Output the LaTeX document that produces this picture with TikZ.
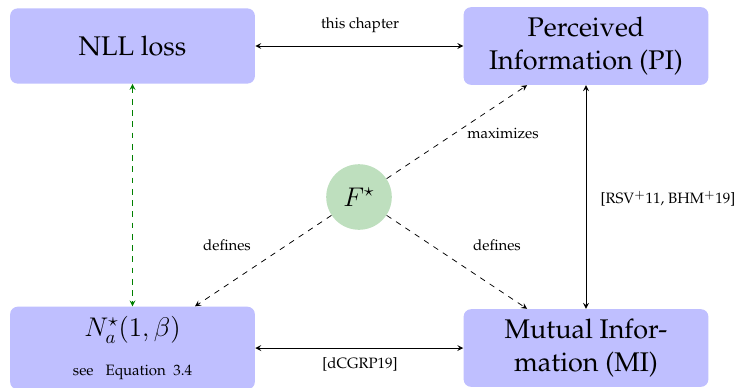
\documentclass[tikz,border=0pt]{standalone}
\usepackage[T1]{fontenc}
\usepackage{palatino}
\usetikzlibrary{arrows, arrows.meta}
\usepackage{amsfonts}
\usepackage{amsmath}

\definecolor{boxblue}{RGB}{191,191,255}
\definecolor{circgreen}{RGB}{190,223,190}

\begin{document}
\begin{tikzpicture}[x=0.01875cm, y=-0.01875cm, >=stealth,
  block/.style={fill=boxblue, rounded corners=4pt, minimum width=4.59cm, minimum height=1.41cm, align=center, inner sep=5pt, font=\Large},
  lbl/.style={font=\footnotesize, inner sep=1pt}]
\useasboundingbox (0,0) rectangle (745,387);
\node[block] (nll) at (132.5,46){NLL loss};
\node[block] (pi) at (586,46){Perceived\\Information (PI)};
\node[block] (nstar) at (132.5,348){$N_a^\star(1,\beta)$\\[3pt]{\footnotesize see\hspace{0.8em}Equation\hspace{0.5em}3.4}};
\node[block] (mi) at (586,348){Mutual Infor-\\mation (MI)};
\node[circle, fill=circgreen, minimum size=35pt, inner sep=0pt, font=\Large] (fstar) at (359,197){$F^\star$};
\node[lbl] (chap) at (360,25){this chapter};
\node[lbl] (dcg) at (360,364){[dCGRP19]};
\node[lbl] (rsv) at (668,199){[RSV$^+$11, BHM$^+$19]};
\node[lbl] (maxi) at (503,133){maximizes};
\node[lbl] (defl) at (227,245){defines};
\node[lbl] (defr) at (497,245){defines};
\draw[<->] (nll) -- (pi);
\draw[<->] (nstar) -- (mi);
\draw[<->] (pi) -- (mi);
\draw[<->, dashed, green!50!black] (nll) -- (nstar);
\draw[->, dashed] (fstar) -- (pi);
\draw[->, dashed] (fstar) -- (nstar);
\draw[->, dashed] (fstar) -- (mi);
\end{tikzpicture}
\end{document}
